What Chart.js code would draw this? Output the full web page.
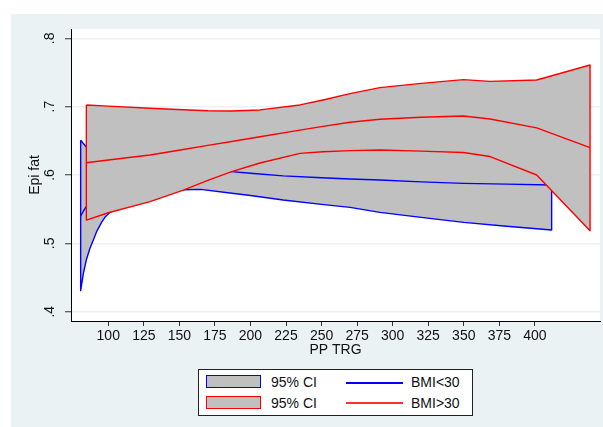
<!DOCTYPE html>
<html>
<head>
<meta charset="utf-8">
<script src="https://cdn.jsdelivr.net/npm/chart.js@4/dist/chart.umd.min.js"></script>
<style>
  html, body { margin: 0; padding: 0; background: #fff; }
  #wrap { position: relative; width: 603px; height: 427px; overflow: hidden; }
  #chart { position: absolute; left: 0; top: 0; }
  .legend {
    position: absolute; left: 198px; top: 369px; width: 273px; height: 45px;
    background: #fff; border: 1px solid #222;
    font-family: "Liberation Sans", Arial, sans-serif; font-size: 14px; color: #111;
  }
  .legend .sw { position: absolute; left: 7px; width: 53px; height: 11px; background: #c0c0c0; }
  .legend .ln { position: absolute; left: 147px; width: 57px; height: 1.5px; }
  .legend .tx { position: absolute; line-height: 16px; white-space: nowrap; }
</style>
</head>
<body>
<div id="wrap">
  <canvas id="chart" width="603" height="427"></canvas>
  <div class="legend">
    <div class="sw" style="top:5px;border:1.5px solid #0000ff;"></div>
    <div class="tx" style="left:72px;top:4px;">95% CI</div>
    <div class="ln" style="top:12px;background:#0000ff;"></div>
    <div class="tx" style="left:212px;top:4px;">BMI&lt;30</div>
    <div class="sw" style="top:26px;border:1.5px solid #ff0000;"></div>
    <div class="tx" style="left:72px;top:25px;">95% CI</div>
    <div class="ln" style="top:32px;background:#ff3030;"></div>
    <div class="tx" style="left:212px;top:25px;">BMI&gt;30</div>
  </div>
</div>
<script>
// Axis ticks
const xTicks = [100, 125, 150, 175, 200, 225, 250, 275, 300, 325, 350, 375, 400];
const yTicks = [0.4, 0.5, 0.6, 0.7, 0.8];

// BMI<30: local polynomial fit of Epi fat on PP TRG with its 95% CI
const lowX   = [80.6, 82.5, 84.6, 87, 89.5, 92, 95.4, 98, 101, 110, 125, 140, 153, 165, 187, 200, 223, 250, 270, 291, 320, 350, 380, 411.8];
const lowFit = [0.540, 0.547, 0.554, 0.560, 0.566, 0.570, 0.575, 0.579, 0.582, 0.593, 0.601, 0.605, 0.6063, 0.6065, 0.6049, 0.6025, 0.5987, 0.596, 0.5941, 0.5927, 0.590, 0.5878, 0.5866, 0.5854];
const lowLo  = [0.431, 0.456, 0.476, 0.492, 0.505, 0.518, 0.531, 0.539, 0.545, 0.556, 0.568, 0.5755, 0.5785, 0.579, 0.5732, 0.570, 0.5634, 0.557, 0.5527, 0.5454, 0.538, 0.5307, 0.525, 0.5195];
const lowHi  = [0.651, 0.646, 0.641, 0.632, 0.627, 0.622, 0.618, 0.618, 0.619, 0.630, 0.634, 0.6345, 0.634, 0.634, 0.6366, 0.635, 0.634, 0.637, 0.638, 0.640, 0.642, 0.645, 0.648, 0.651];

// BMI>30: local polynomial fit with its 95% CI
const highX   = [84.6, 100, 129.4, 152.8, 170, 186.8, 206.7, 234.8, 251, 270, 291, 320, 349.7, 368.5, 401.3, 438.8];
const highFit = [0.618, 0.622, 0.6293, 0.6374, 0.6433, 0.6491, 0.656, 0.6656, 0.6711, 0.6771, 0.6815, 0.6845, 0.6864, 0.682, 0.669, 0.640];
const highLo  = [0.534, 0.5448, 0.561, 0.578, 0.592, 0.6049, 0.6176, 0.6317, 0.634, 0.6356, 0.6366, 0.635, 0.633, 0.627, 0.600, 0.5185];
const highHi  = [0.7025, 0.7008, 0.6977, 0.6955, 0.694, 0.6937, 0.6952, 0.7025, 0.7098, 0.719, 0.7278, 0.734, 0.7395, 0.737, 0.739, 0.761];

const BLUE = '#0000ff', RED = '#ff0000', BAND = '#c0c0c0';
const FONT = '"Liberation Sans", Arial, sans-serif';

// closed outline: upper bound left→right, lower bound right→left, back to start
function bandPolygon(xs, lo, hi) {
  const pts = xs.map((x, i) => ({ x, y: hi[i] }));
  for (let i = xs.length - 1; i >= 0; i--) pts.push({ x: xs[i], y: lo[i] });
  pts.push({ x: xs[0], y: hi[0] });
  return pts;
}
function curve(xs, ys) { return xs.map((x, i) => ({ x, y: ys[i] })); }

const lineStyle = { pointRadius: 0, borderWidth: 1.4, tension: 0, fill: false, borderJoinStyle: 'round' };

const backdrop = {
  id: 'backdrop',
  beforeDraw(chart) {
    const { ctx, chartArea: a } = chart;
    ctx.save();
    ctx.fillStyle = '#ffffff';
    ctx.fillRect(0, 0, chart.width, chart.height);
    ctx.fillStyle = '#eaf2f3';
    ctx.fillRect(11, 14, chart.width - 11, chart.height - 14);
    ctx.fillStyle = '#ffffff';
    ctx.fillRect(a.left, a.top, a.right - a.left, a.bottom - a.top);
    ctx.restore();
  }
};

// y tick labels, turned to read upward
const yLabels = {
  id: 'yLabels',
  afterDraw(chart) {
    const { ctx } = chart;
    const s = chart.scales.y;
    ctx.save();
    ctx.fillStyle = '#111';
    ctx.font = '14px ' + FONT;
    ctx.textAlign = 'center';
    ctx.textBaseline = 'alphabetic';
    s.ticks.forEach(t => {
      const py = s.getPixelForValue(t.value);
      ctx.save();
      ctx.translate(53.5, py);
      ctx.rotate(-Math.PI / 2);
      ctx.fillText(t.value.toFixed(1).replace(/^0/, ''), 0, 0);
      ctx.restore();
    });
    ctx.restore();
  }
};

new Chart(document.getElementById('chart'), {
  type: 'line',
  data: {
    datasets: [
      { label: 'BMI>30', data: curve(highX, highFit), borderColor: RED, order: 0, ...lineStyle },
      { label: '95% CI', data: bandPolygon(highX, highLo, highHi), borderColor: RED, backgroundColor: BAND,
        order: 1, ...lineStyle, fill: 'shape' },
      { label: 'BMI<30', data: curve(lowX, lowFit), borderColor: BLUE, order: 2, ...lineStyle },
      { label: '95% CI', data: bandPolygon(lowX, lowLo, lowHi), borderColor: BLUE, backgroundColor: BAND,
        order: 3, ...lineStyle, fill: 'shape' }
    ]
  },
  options: {
    responsive: false,
    animation: false,
    events: [],
    layout: { padding: { left: 0, top: 29, right: 3, bottom: 61 } },
    plugins: { legend: { display: false }, tooltip: { enabled: false } },
    scales: {
      x: {
        type: 'linear', min: 73.8, max: 445.8,
        afterBuildTicks: ax => { ax.ticks = xTicks.map(v => ({ value: v })); },
        afterFit: ax => { ax.height = 45; },
        grid: { drawOnChartArea: false, tickLength: 5, tickColor: '#333', tickWidth: 1 },
        border: { color: '#000', width: 1 },
        ticks: { autoSkip: false, maxRotation: 0, padding: 2, color: '#111',
                 font: { family: FONT, size: 14 }, callback: v => String(v) },
        title: { display: true, text: 'PP TRG', color: '#111', font: { family: FONT, size: 14 },
                 padding: { top: 0, bottom: 7.6 } }
      },
      y: {
        type: 'linear', min: 0.3864, max: 0.8136,
        afterBuildTicks: ax => { ax.ticks = yTicks.map(v => ({ value: v })); },
        afterFit: ax => { ax.width = 71; },
        grid: { color: '#eaf2f3', lineWidth: 1.5, tickLength: 6, tickColor: '#333', tickWidth: 1 },
        border: { color: '#000', width: 1 },
        ticks: { display: false },
        title: { display: true, text: 'Epi fat', color: '#111', font: { family: FONT, size: 14 },
                 padding: { top: 27, bottom: 0 } }
      }
    }
  },
  plugins: [backdrop, yLabels]
});
</script>
</body>
</html>
